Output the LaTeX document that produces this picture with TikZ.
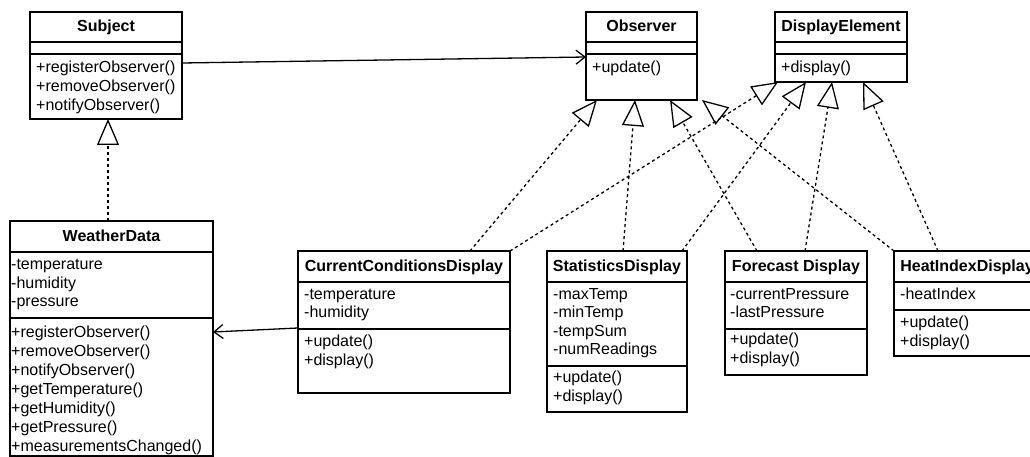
\documentclass[tikz,border=0pt]{standalone}
\usepackage{fontspec}
\setmainfont{Liberation Sans}
\usetikzlibrary{arrows.meta,calc}
\tikzset{
  umlbox/.style={draw, line width=1.4pt, inner sep=0pt, outer sep=0pt, anchor=north west, rectangle},
  sepline/.style={line width=1.4pt},
  cname/.style={font=\fontsize{16}{19}\selectfont\bfseries, inner sep=0pt, text height=12pt, text depth=3.5pt},
  member/.style={anchor=west, inner sep=0pt, text height=12pt, text depth=3.5pt},
  realize/.style={line width=1.3pt, dash pattern=on 3pt off 3pt, -{Triangle[open, length=26pt, width=22pt, line width=1.3pt]}},
  assoc/.style={line width=1.3pt, -{Straight Barb[length=9pt, width=14pt, line width=1.3pt]}}
}
\begin{document}
\begin{tikzpicture}[x=1pt, y=-1pt, font=\fontsize{16}{19}\selectfont]
\fill[white] (0,0) rectangle (1030,457);
\useasboundingbox (0,0) rectangle (1030,457);
\clip (0,0) rectangle (1030,457);

% ---------- Subject
\node[umlbox, minimum width=152pt, minimum height=107pt] (subj) at (30,12) {};
\draw[sepline] (30,42) -- (182,42);
\draw[sepline] (30,54) -- (182,54);
\node[cname] (subjname) at (106,27) {Subject};
\node[member] (subjm1) at (36,68) {+registerObserver()};
\node[member] (subjm2) at (36,87) {+removeObserver()};
\node[member] (subjm3) at (36,106) {+notifyObserver()};

% ---------- Observer
\node[umlbox, minimum width=111pt, minimum height=88pt] (obs) at (586,12) {};
\draw[sepline] (586,42) -- (697,42);
\draw[sepline] (586,54) -- (697,54);
\node[cname] (obsname) at (641.5,27) {Observer};
\node[member] (obsm1) at (592,68) {+update()};

% ---------- DisplayElement
\node[umlbox, minimum width=132pt, minimum height=70pt] (disp) at (775,12) {};
\draw[sepline] (775,42) -- (907,42);
\draw[sepline] (775,54) -- (907,54);
\node[cname] (dispname) at (841,27) {DisplayElement};
\node[member] (dispm1) at (781,68) {+display()};

% ---------- WeatherData
\node[umlbox, minimum width=203pt, minimum height=235pt] (wd) at (10,221) {};
\draw[sepline] (10,252) -- (213,252);
\draw[sepline] (10,318) -- (213,318);
\node[cname] (wdname) at (111.5,237) {WeatherData};
\node[member] (wda1) at (11,265) {-temperature};
\node[member] (wda2) at (11,284) {-humidity};
\node[member] (wda3) at (11,302) {-pressure};
\node[member] (wdm1) at (11,333) {+registerObserver()};
\node[member] (wdm2) at (11,352) {+removeObserver()};
\node[member] (wdm3) at (11,371) {+notifyObserver()};
\node[member] (wdm4) at (11,390) {+getTemperature()};
\node[member] (wdm5) at (11,409) {+getHumidity()};
\node[member] (wdm6) at (11,428) {+getPressure()};
\node[member] (wdm7) at (11,447) {+measurementsChanged()};

% ---------- CurrentConditionsDisplay
\node[umlbox, minimum width=212pt, minimum height=142pt] (ccd) at (298,251) {};
\draw[sepline] (298,282) -- (510,282);
\draw[sepline] (298,329) -- (510,329);
\node[cname] (ccdname) at (404,267) {CurrentConditionsDisplay};
\node[member] (ccda1) at (304,295) {-temperature};
\node[member] (ccda2) at (304,313) {-humidity};
\node[member] (ccdm1) at (304,342) {+update()};
\node[member] (ccdm2) at (304,361) {+display()};

% ---------- StatisticsDisplay
\node[umlbox, minimum width=140pt, minimum height=161pt] (stat) at (547,251) {};
\draw[sepline] (547,282) -- (687,282);
\draw[sepline] (547,366) -- (687,366);
\node[cname] (statname) at (617,267) {StatisticsDisplay};
\node[member] (stata1) at (553,295) {-maxTemp};
\node[member] (stata2) at (553,313.5) {-minTemp};
\node[member] (stata3) at (553,332) {-tempSum};
\node[member] (stata4) at (553,350.5) {-numReadings};
\node[member] (statm1) at (553,378) {+update()};
\node[member] (statm2) at (553,397) {+display()};

% ---------- Forecast Display
\node[umlbox, minimum width=142pt, minimum height=124pt] (fc) at (725,251) {};
\draw[sepline] (725,282) -- (867,282);
\draw[sepline] (725,329) -- (867,329);
\node[cname] (fcname) at (796,267) {Forecast Display};
\node[member] (fca1) at (730,295) {-currentPressure};
\node[member] (fca2) at (730,313) {-lastPressure};
\node[member] (fcm1) at (730,340) {+update()};
\node[member] (fcm2) at (730,359) {+display()};

% ---------- HeatIndexDisplay
\node[umlbox, minimum width=146pt, minimum height=105pt] (hi) at (894,251) {};
\draw[sepline] (894,282) -- (1040,282);
\draw[sepline] (894,310) -- (1040,310);
\node[cname] (hiname) at (967,267) {HeatIndexDisplay};
\node[member] (hia1) at (900,295) {-heatIndex};
\node[member] (him1) at (900,323) {+update()};
\node[member] (him2) at (900,342) {+display()};

% ---------- associations
\draw[assoc] ([yshift=2.5pt]subj.east) -- ([yshift=-1pt]obs.west);
\draw[assoc] ([yshift=-6pt]ccd.west) -- ([yshift=6.5pt]wd.east);

% ---------- generalization / realization
\draw[realize] ([xshift=-3.5pt]wd.north) -- ([xshift=2pt]subj.south);
\draw[realize] ([xshift=66pt]ccd.north) -- ([xshift=-44.5pt]obs.south);
\draw[realize] (ccd.north east) -- ([xshift=-63pt]disp.south);
\draw[realize] ([xshift=6pt]stat.north) -- ([xshift=-6.5pt]obs.south);
\draw[realize] ([xshift=65pt]stat.north) -- ([xshift=-35pt]disp.south);
\draw[realize] ([xshift=-39pt]fc.north) -- ([xshift=28.5pt]obs.south);
\draw[realize] ([xshift=9pt]fc.north) -- ([xshift=-9pt]disp.south);
\draw[realize] (hi.north west) -- ([xshift=5pt]obs.south east);
\draw[realize] ([xshift=-29pt]hi.north) -- ([xshift=22pt]disp.south);
\end{tikzpicture}
\end{document}
